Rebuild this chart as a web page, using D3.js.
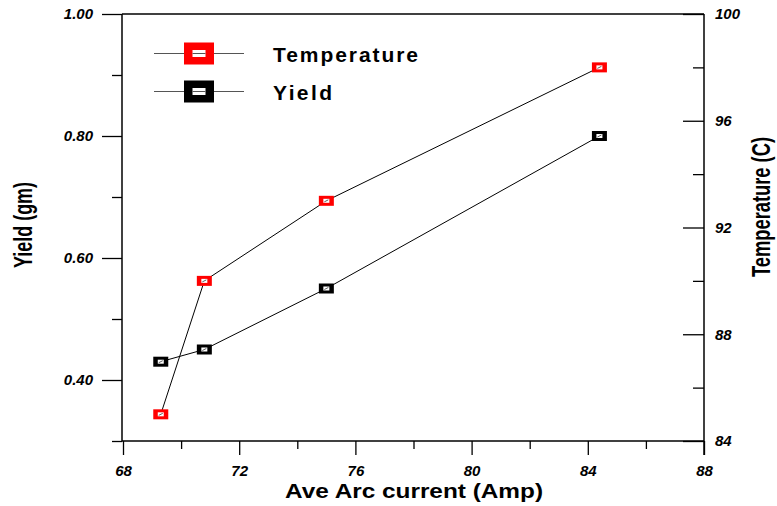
<!DOCTYPE html>
<html>
<head>
<meta charset="utf-8">
<script src="https://cdn.jsdelivr.net/npm/d3@7/dist/d3.min.js"></script>
<style>
  body { margin: 0; background: #fff; }
  svg { display: block; }
  text { font-family: "Liberation Sans", Arial, sans-serif; }
</style>
</head>
<body>
<script>
// ---- data ----
const current = [69.3, 70.8, 75.0, 84.4];
const temperature = [85, 90, 93, 98];
const yieldGm = [0.43, 0.45, 0.55, 0.80];
const xTicks = [68, 72, 76, 80, 84, 88];
const yLeftTicks = [0.40, 0.60, 0.80, 1.00];
const yRightTicks = [84, 88, 92, 96, 100];
const seriesNames = ["Temperature", "Yield"];
const seriesColors = ["#ff0000", "#000000"];

const W = 777, H = 506;
const svg = d3.select("body").append("svg").attr("width", W).attr("height", H);

const x = d3.scaleLinear().domain([68, 88]).range([123, 704]);
const yL = d3.scaleLinear().domain([0.3, 1.0]).range([441, 14]);
const yR = d3.scaleLinear().domain([84, 100]).range([441, 14]);

const tickFont = g => g.selectAll("text")
  .style("font-size", "15px").style("font-weight", "bold").style("font-style", "italic").attr("fill", "#000");

// top border line
svg.append("line").attr("x1", 122).attr("x2", 704).attr("y1", 14).attr("y2", 14)
  .attr("stroke", "#000").attr("stroke-width", 1.3);

// left axis - minor
svg.append("g").attr("transform", "translate(122,0)")
  .call(d3.axisLeft(yL).tickValues([0.3, 0.5, 0.7, 0.9]).tickSize(10).tickFormat(""))
  .call(g => g.select(".domain").remove())
  .call(g => g.selectAll("line").attr("stroke-width", 1.3));
// left axis - major
svg.append("g").attr("transform", "translate(122,0)")
  .call(d3.axisLeft(yL).tickValues(yLeftTicks).tickSize(20).tickPadding(9).tickFormat(d3.format(".2f")))
  .call(g => g.select(".domain").attr("d", "M0,14V441").attr("stroke-width", 1.5))
  .call(g => g.selectAll("line").attr("stroke-width", 1.3))
  .call(tickFont);

// right axis - minor (inward)
svg.append("g").attr("transform", "translate(704,0)")
  .call(d3.axisRight(yR).tickValues([86, 90, 94, 98]).tickSizeInner(-11).tickSizeOuter(0).tickFormat(""))
  .call(g => g.select(".domain").remove())
  .call(g => g.selectAll("line").attr("stroke-width", 1.3));
// right axis - major
svg.append("g").attr("transform", "translate(704,0)")
  .call(d3.axisRight(yR).tickValues(yRightTicks).tickSizeInner(-21).tickSizeOuter(0).tickPadding(11).tickFormat(d3.format("d")))
  .call(g => g.select(".domain").attr("d", "M0,14V455").attr("stroke-width", 1.5))
  .call(g => g.selectAll("line").attr("stroke-width", 1.3))
  .call(tickFont);

// bottom axis - minor
svg.append("g").attr("transform", "translate(0,441)")
  .call(d3.axisBottom(x).tickValues([70, 74, 78, 82, 86]).tickSize(8).tickFormat(""))
  .call(g => g.select(".domain").remove())
  .call(g => g.selectAll("line").attr("stroke-width", 1.3));
// bottom axis - major
svg.append("g").attr("transform", "translate(0,441)")
  .call(d3.axisBottom(x).tickValues(xTicks).tickSize(14).tickPadding(10).tickFormat(d3.format("d")))
  .call(g => g.select(".domain").attr("d", "M122,0H704").attr("stroke-width", 1.5))
  .call(g => g.selectAll("line").attr("stroke-width", 1.3))
  .call(tickFont);

// axis titles
svg.append("text").attr("x", 414).attr("y", 498).attr("text-anchor", "middle")
  .attr("textLength", 258).attr("lengthAdjust", "spacingAndGlyphs")
  .style("font-size", "20px").style("font-weight", "bold").text("Ave Arc current (Amp)");
svg.append("text").attr("transform", "translate(32,225) rotate(-90)").attr("text-anchor", "middle")
  .attr("textLength", 86).attr("lengthAdjust", "spacingAndGlyphs")
  .style("font-size", "26px").style("font-weight", "bold").text("Yield (gm)");
svg.append("text").attr("transform", "translate(770,207) rotate(-90)").attr("text-anchor", "middle")
  .attr("textLength", 140).attr("lengthAdjust", "spacingAndGlyphs")
  .style("font-size", "25px").style("font-weight", "bold").text("Temperature (C)");

// series
const series = [
  { name: seriesNames[0], color: seriesColors[0], vals: temperature, y: yR },
  { name: seriesNames[1], color: seriesColors[1], vals: yieldGm, y: yL }
];
const line = d3.line();
series.forEach(s => {
  const pts = current.map((c, i) => [x(c), s.y(s.vals[i])]);
  svg.append("path").attr("d", line(pts)).attr("fill", "none").attr("stroke", "#000").attr("stroke-width", 1);
  const g = svg.append("g");
  pts.forEach(p => {
    g.append("rect").attr("x", p[0] - 7.5).attr("y", p[1] - 5).attr("width", 15).attr("height", 10).attr("fill", s.color);
    g.append("rect").attr("x", p[0] - 3).attr("y", p[1] - 2).attr("width", 6).attr("height", 4).attr("fill", "#fff");
    g.append("line").attr("x1", p[0] - 2).attr("x2", p[0] + 2).attr("y1", p[1] + 1).attr("y2", p[1] - 1)
      .attr("stroke", "#333").attr("stroke-width", 0.8);
  });
});

// legend
const legY = [53.5, 91.5];
series.forEach((s, i) => {
  const cy = legY[i];
  svg.append("line").attr("x1", 154).attr("x2", 244).attr("y1", cy).attr("y2", cy).attr("stroke", "#555").attr("stroke-width", 1);
  svg.append("rect").attr("x", 184).attr("y", cy - 11).attr("width", 30).attr("height", 22).attr("fill", s.color);
  svg.append("rect").attr("x", 192.5).attr("y", cy - 3.5).attr("width", 13).attr("height", 7).attr("fill", "#fff");
  svg.append("line").attr("x1", 192.5).attr("x2", 205.5).attr("y1", cy).attr("y2", cy).attr("stroke", "#555").attr("stroke-width", 1);
  svg.append("text").attr("x", 273).attr("y", cy + 8)
    .attr("textLength", i === 0 ? 145 : 59).attr("lengthAdjust", "spacing")
    .style("font-size", "21px").style("font-weight", "bold").text(s.name);
});
</script>
</body>
</html>
